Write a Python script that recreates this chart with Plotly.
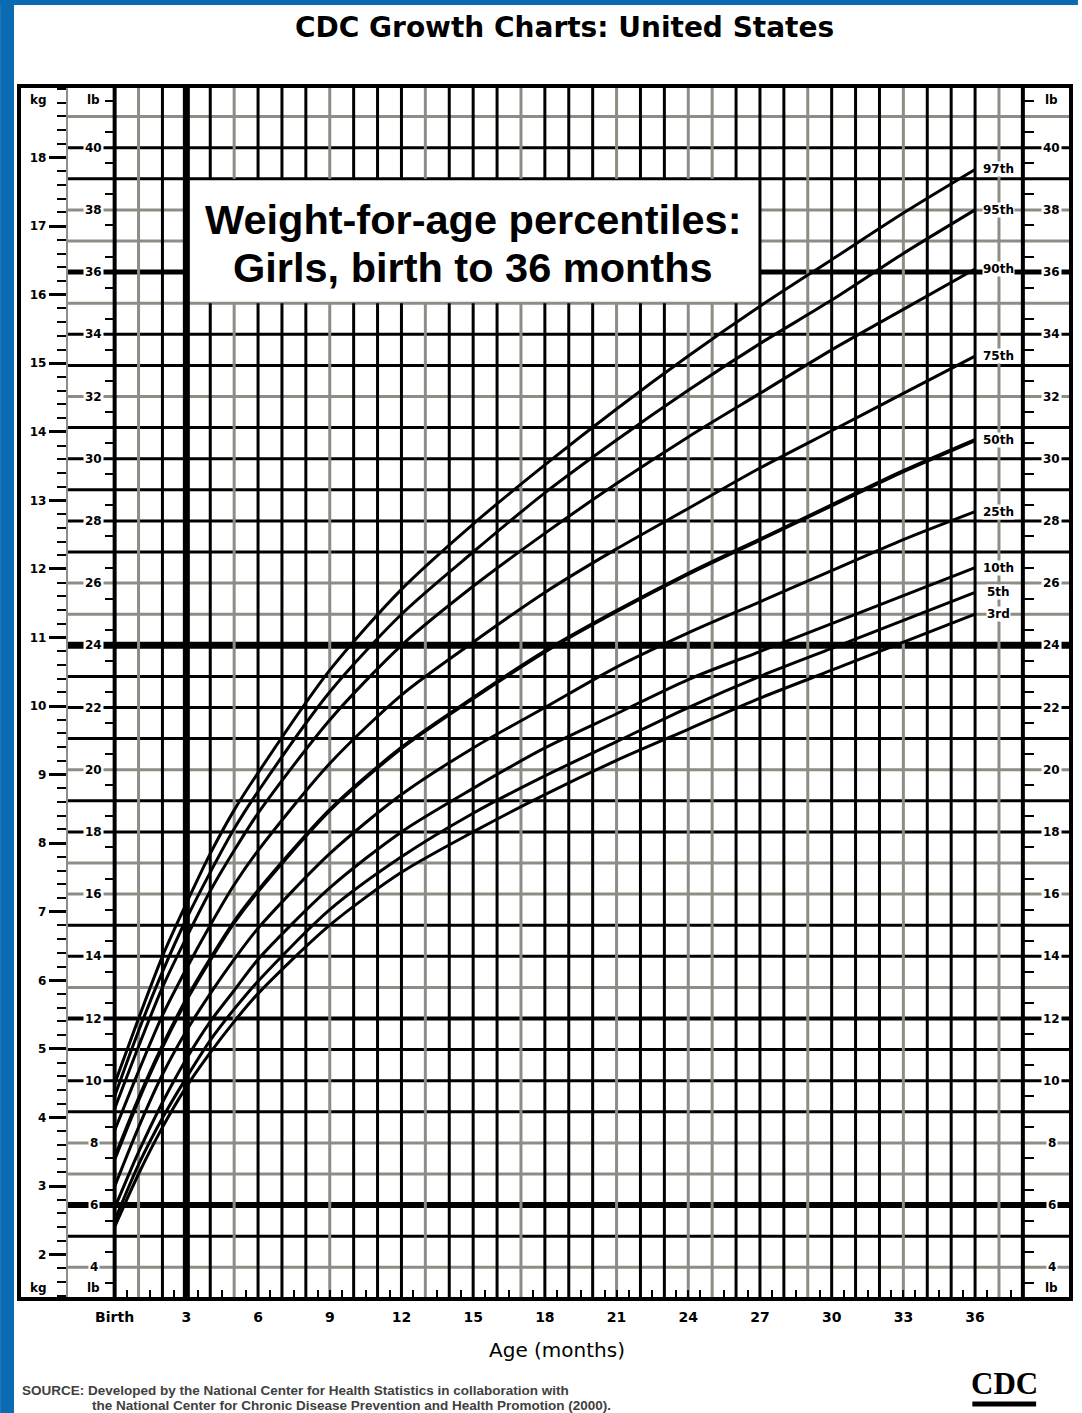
import plotly.graph_objects as go

# ---------------------------------------------------------------------------
# Data: weight-for-age percentiles, girls, birth to 36 months (weight in lb)
# ---------------------------------------------------------------------------
AGE_MONTHS = [0, 1, 2, 3, 4, 5, 6, 9, 12, 15, 18, 21, 24, 27, 30, 33, 36]

P3 = [5.3, 7.0, 8.5, 9.8, 10.9, 11.9, 12.8, 15.0, 16.7, 18.0, 19.2, 20.3, 21.3, 22.3, 23.2, 24.1, 25.0]
P5 = [5.5, 7.3, 8.8, 10.1, 11.3, 12.3, 13.2, 15.5, 17.2, 18.6, 19.8, 20.9, 22.0, 23.0, 23.9, 24.8, 25.7]
P10 = [5.9, 7.7, 9.3, 10.7, 11.9, 12.9, 13.9, 16.2, 18.0, 19.4, 20.7, 21.8, 22.9, 23.8, 24.7, 25.6, 26.5]
P25 = [6.6, 8.5, 10.2, 11.6, 12.8, 13.9, 14.9, 17.3, 19.2, 20.7, 22.0, 23.3, 24.4, 25.4, 26.4, 27.4, 28.3]
P50 = [7.5, 9.4, 11.1, 12.6, 13.9, 15.1, 16.1, 18.7, 20.7, 22.3, 23.8, 25.1, 26.3, 27.4, 28.5, 29.6, 30.6]
P75 = [8.4, 10.3, 12.1, 13.6, 15.0, 16.3, 17.4, 20.2, 22.4, 24.1, 25.7, 27.1, 28.4, 29.7, 30.9, 32.1, 33.3]
P90 = [9.1, 11.1, 13.0, 14.6, 16.1, 17.4, 18.6, 21.6, 24.0, 25.9, 27.6, 29.2, 30.7, 32.1, 33.5, 34.8, 36.1]
P95 = [9.5, 11.6, 13.5, 15.2, 16.7, 18.1, 19.3, 22.5, 25.0, 27.0, 28.9, 30.6, 32.2, 33.7, 35.1, 36.6, 38.0]
P97 = [9.9, 12.0, 14.0, 15.7, 17.3, 18.7, 19.9, 23.2, 25.8, 27.9, 29.8, 31.6, 33.3, 34.9, 36.4, 37.9, 39.3]

PERCENTILE_NAMES = ["3rd", "5th", "10th", "25th", "50th", "75th", "90th", "95th", "97th"]
PERCENTILE_SERIES = [P3, P5, P10, P25, P50, P75, P90, P95, P97]

AGE_TICK_VALUES = [0, 3, 6, 9, 12, 15, 18, 21, 24, 27, 30, 33, 36]
AGE_TICK_TEXT = ["Birth", "3", "6", "9", "12", "15", "18", "21", "24", "27", "30", "33", "36"]
LB_LABELS = [4, 6, 8, 10, 12, 14, 16, 18, 20, 22, 24, 26, 28, 30, 32, 34, 36, 38, 40]
KG_LABELS = [2, 3, 4, 5, 6, 7, 8, 9, 10, 11, 12, 13, 14, 15, 16, 17, 18]

LB_PER_KG = 2.20462

# ---------------------------------------------------------------------------
# Geometry of the chart sheet
# ---------------------------------------------------------------------------
W, H = 1082, 1413
M_L, M_R, M_T, M_B = 21, 9, 88, 116
X_MIN, X_MAX = -3.918, 39.93        # months (left part holds the kg / lb scales)
Y_MIN, Y_MAX = 3.045, 41.92         # pounds
KG_AXIS_X = -2.0                    # month position of the kg scale line
LAST_MONTH = 38                     # right lb scale line
BOX = dict(x0=3, x1=27, y0=35, y1=39)

PLOT_W = W - M_L - M_R
PLOT_H = H - M_T - M_B


def paper_x(px):
    return (px - M_L) / PLOT_W


def paper_y(py):
    return (H - M_B - py) / PLOT_H


def axis_pos(month):
    return (month - X_MIN) / (X_MAX - X_MIN)


GRAY = "#8d8d86"
BLACK = "#000000"
GRAY_MONTHS = {1, 5, 9, 13, 17, 21, 24, 25, 29, 33, 37}
HEAVY_MONTHS = {3: 7}
GRAY_LBS = {41, 38, 37, 35, 32, 26, 25, 20, 17, 16, 13, 8, 7, 4}
HEAVY_LBS = {36: 5, 24: 7, 12: 4, 6: 6}

fig = go.Figure()

# ---------------------------------------------------------------------------
# Grid
# ---------------------------------------------------------------------------
shapes = []


def vline(m, ya, yb, color, width):
    shapes.append(dict(type="line", xref="x", yref="y", x0=m, x1=m, y0=ya, y1=yb,
                       line=dict(color=color, width=width), layer="below"))


def hline(v, xa, xb, color, width):
    shapes.append(dict(type="line", xref="x", yref="y", x0=xa, x1=xb, y0=v, y1=v,
                       line=dict(color=color, width=width), layer="below"))


# white panel behind the chart heading
shapes.append(dict(type="rect", xref="x", yref="y", **BOX,
                   fillcolor="white", line=dict(width=0), layer="below"))

for lb in range(4, 42):
    color = GRAY if lb in GRAY_LBS else BLACK
    width = HEAVY_LBS.get(lb, 3)
    if BOX["y0"] < lb < BOX["y1"]:
        hline(lb, KG_AXIS_X, BOX["x0"], color, width)
        hline(lb, BOX["x1"], X_MAX, color, width)
    else:
        hline(lb, KG_AXIS_X, X_MAX, color, width)

for m in range(0, LAST_MONTH + 1):
    color = GRAY if m in GRAY_MONTHS else BLACK
    width = HEAVY_MONTHS.get(m, 4 if m in (0, LAST_MONTH) else 3)
    if BOX["x0"] < m < BOX["x1"]:
        vline(m, Y_MIN, BOX["y0"], color, width)
        vline(m, BOX["y1"], Y_MAX, color, width)
    else:
        vline(m, Y_MIN, Y_MAX, color, width)

# blue slide border
shapes.append(dict(type="rect", xref="paper", yref="paper",
                   x0=paper_x(0), x1=paper_x(14), y0=paper_y(H), y1=paper_y(0),
                   fillcolor="#0a6bb2", line=dict(width=0), layer="above"))
shapes.append(dict(type="rect", xref="paper", yref="paper",
                   x0=paper_x(0), x1=paper_x(W), y0=paper_y(5), y1=paper_y(0),
                   fillcolor="#0a6bb2", line=dict(width=0), layer="above"))
# CDC logo base bar
shapes.append(dict(type="line", xref="paper", yref="paper",
                   x0=paper_x(976), x1=paper_x(1040), y0=paper_y(1404), y1=paper_y(1404),
                   line=dict(color="black", width=5), layer="above"))

# ---------------------------------------------------------------------------
# Percentile curves
# ---------------------------------------------------------------------------
for name, vals in zip(PERCENTILE_NAMES, PERCENTILE_SERIES):
    fig.add_trace(go.Scatter(
        x=AGE_MONTHS, y=vals, mode="lines", name=name,
        line=dict(color="black", width=4 if name == "50th" else 3,
                  shape="spline", smoothing=0.8),
        hoverinfo="skip", showlegend=False))

# empty traces so the extra scales are attached to the figure
for ax in ("y2", "y3", "y4"):
    fig.add_trace(go.Scatter(x=[], y=[], yaxis=ax, showlegend=False, hoverinfo="skip"))

# ---------------------------------------------------------------------------
# Text
# ---------------------------------------------------------------------------
LABEL_FONT = dict(family="DejaVu Sans", size=12, color="black", weight="bold")
CENTER = dict(xanchor="center", yanchor="middle", showarrow=False)
ann = []

for lb in LB_LABELS:
    for xm in (-0.88, 39.2):
        ann.append(dict(x=xm, y=lb, xref="x", yref="y", text=str(lb),
                        font=LABEL_FONT, bgcolor="white", borderpad=1, **CENTER))

for yv in (41.53, 3.34):
    for xm, txt in ((-3.2, "kg"), (-0.88, "lb"), (39.2, "lb")):
        ann.append(dict(x=xm, y=yv, xref="x", yref="y", text=txt,
                        font=LABEL_FONT, bgcolor="white", borderpad=1, **CENTER))

for name, vals in zip(PERCENTILE_NAMES, PERCENTILE_SERIES):
    ann.append(dict(x=37.0, y=vals[-1], xref="x", yref="y", text=name,
                    font=dict(family="DejaVu Sans", size=12, color="black", weight="bold"),
                    bgcolor="white", borderpad=0, **CENTER))

HEAD_FONT = dict(family="Liberation Sans", size=41.5, color="black", weight="bold")
ann.append(dict(x=15, y=37.68, xref="x", yref="y", text="Weight-for-age percentiles:",
                font=HEAD_FONT, **CENTER))
ann.append(dict(x=15, y=36.14, xref="x", yref="y", text="Girls, birth to 36 months",
                font=HEAD_FONT, **CENTER))

ann.append(dict(x=paper_x(567), y=paper_y(27), xref="paper", yref="paper",
                text="CDC Growth Charts: United States",
                font=dict(family="DejaVu Sans", size=28, color="black", weight="bold"),
                **CENTER))
ann.append(dict(x=paper_x(559), y=paper_y(1350), xref="paper", yref="paper",
                text="Age (months)",
                font=dict(family="DejaVu Sans", size=20, color="black"), **CENTER))
FOOT_FONT = dict(family="Liberation Sans", size=13.5, color="#404040", weight="bold")
ann.append(dict(x=paper_x(20), y=paper_y(1390), xref="paper", yref="paper",
                xanchor="left", yanchor="middle", showarrow=False,
                text="SOURCE: Developed by the National Center for Health Statistics in collaboration with",
                font=FOOT_FONT))
ann.append(dict(x=paper_x(90), y=paper_y(1405), xref="paper", yref="paper",
                xanchor="left", yanchor="middle", showarrow=False,
                text="the National Center for Chronic Disease Prevention and Health Promotion (2000).",
                font=FOOT_FONT))
ann.append(dict(x=paper_x(1008), y=paper_y(1384), xref="paper", yref="paper",
                text="CDC", font=dict(family="Liberation Serif", size=31, color="black",
                                      weight="bold"), **CENTER))

# ---------------------------------------------------------------------------
# Layout and scales
# ---------------------------------------------------------------------------
half_months = [m + 0.5 for m in range(0, LAST_MONTH)]
fig.update_layout(
    width=W, height=H, autosize=False,
    margin=dict(l=M_L, r=M_R, t=M_T, b=M_B, pad=0),
    paper_bgcolor="white", plot_bgcolor="white",
    showlegend=False, shapes=shapes, annotations=ann,
    xaxis=dict(range=[X_MIN, X_MAX], showgrid=False, zeroline=False,
               showline=True, mirror=True, linecolor="black", linewidth=4,
               tickmode="array", tickvals=half_months + AGE_TICK_VALUES,
               ticktext=[""] * len(half_months) + AGE_TICK_TEXT,
               ticks="inside", ticklen=7, tickwidth=2, tickcolor="black",
               ticklabelstandoff=4,
               tickfont=dict(family="DejaVu Sans", size=14, color="black", weight="bold")),
    yaxis=dict(range=[Y_MIN, Y_MAX], showgrid=False, zeroline=False,
               showline=True, mirror=True, linecolor="black", linewidth=4,
               showticklabels=False, ticks=""),
    yaxis2=dict(overlaying="y", anchor="free", position=axis_pos(KG_AXIS_X), side="left",
                range=[Y_MIN / LB_PER_KG, Y_MAX / LB_PER_KG],
                showgrid=False, zeroline=False, showline=True, linecolor=GRAY, linewidth=2,
                tickmode="array", tickvals=KG_LABELS, ticks="outside",
                ticklen=17, tickwidth=3, tickcolor="black",
                tickfont=dict(family="DejaVu Sans", size=12, color="black", weight="bold"),
                minor=dict(ticks="outside", ticklen=9, tickwidth=2, tickcolor="black",
                           dtick=0.2, tick0=0, showgrid=False)),
    yaxis3=dict(overlaying="y", anchor="free", position=axis_pos(0), side="left",
                range=[Y_MIN, Y_MAX], showgrid=False, zeroline=False, showline=False,
                tickmode="linear", tick0=3.5, dtick=1, ticks="outside",
                ticklen=10, tickwidth=2, tickcolor="black", showticklabels=False),
    yaxis4=dict(overlaying="y", anchor="free", position=axis_pos(LAST_MONTH), side="right",
                range=[Y_MIN, Y_MAX], showgrid=False, zeroline=False, showline=False,
                tickmode="linear", tick0=3.5, dtick=1, ticks="outside",
                ticklen=10, tickwidth=2, tickcolor="black", showticklabels=False),
)

fig.write_html("out.html")
